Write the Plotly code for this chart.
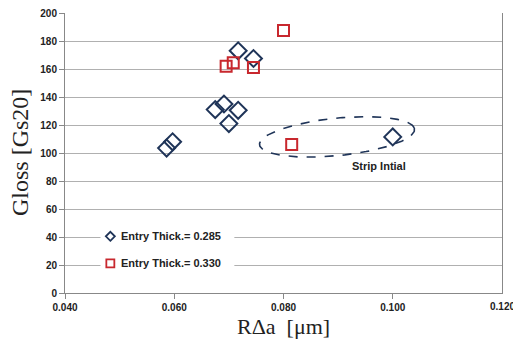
import numpy as np
import plotly.graph_objects as go

# Data
x_285 = [0.0586, 0.0597, 0.0675, 0.0691, 0.0700, 0.0717, 0.0717, 0.0745, 0.1000]
y_285 = [103.5, 108, 131, 135, 121, 130.5, 173, 167.5, 111.5]
x_330 = [0.0695, 0.0708, 0.0745, 0.0800, 0.0815]
y_330 = [162, 164.5, 161, 187.5, 106]
x_ticks = [0.040, 0.060, 0.080, 0.100, 0.120]
x_tick_labels = ["0.040", "0.060", "0.080", "0.100", "0.120"]
y_ticks = [0, 20, 40, 60, 80, 100, 120, 140, 160, 180, 200]
series_names = ["Entry Thick.= 0.285", "Entry Thick.= 0.330"]

navy = "#1F3458"
red = "#C8282E"
txt = "#222222"
tickfont = dict(family="Liberation Sans", size=10, color=txt, weight="bold")

fig = go.Figure()
fig.add_trace(go.Scatter(x=x_285, y=y_285, mode="markers", name=series_names[0], showlegend=False,
                         marker=dict(symbol="diamond-open", size=13, color=navy,
                                     line=dict(width=2, color=navy))))
fig.add_trace(go.Scatter(x=x_330, y=y_330, mode="markers", name=series_names[1], showlegend=False,
                         marker=dict(symbol="square-open", size=11, color=red,
                                     line=dict(width=2, color=red))))

# Dashed ellipse annotation (tilted)
cx, cy = 0.0898, 111.5
a_x, a_y = 0.01415, 6.3
b_x, b_y = 0.0011, 13.0
t = np.linspace(0, 2 * np.pi, 200)
ex = cx + a_x * np.cos(t) + (-b_x) * np.sin(t)
ey = cy + a_y * np.cos(t) + b_y * np.sin(t)
fig.add_trace(go.Scatter(x=ex, y=ey, mode="lines", showlegend=False, hoverinfo="skip",
                         line=dict(color=navy, width=1.6, dash="dash")))

fig.add_annotation(x=0.0975, y=91, text="<b>Strip Intial</b>", showarrow=False,
                   font=dict(family="Liberation Sans", size=11, color=txt))

# Legend box (manual)
fig.add_shape(type="rect", xref="x", yref="y", x0=0.0465, x1=0.0710, y0=10, y1=50,
              fillcolor="white", line=dict(width=0), layer="above")
leg_x = 0.0483
leg_y = [40.5, 21.2]
fig.add_shape(type="path", xref="x", yref="y", xsizemode="pixel", ysizemode="pixel",
              xanchor=leg_x, yanchor=leg_y[0], path="M 0 -4.5 L 4.5 0 L 0 4.5 L -4.5 0 Z",
              line=dict(color=navy, width=1.8), fillcolor="rgba(0,0,0,0)", layer="above")
fig.add_shape(type="rect", xref="x", yref="y", xsizemode="pixel", ysizemode="pixel",
              xanchor=leg_x, yanchor=leg_y[1], x0=-4, x1=4, y0=-4, y1=4,
              line=dict(color=red, width=1.8), fillcolor="rgba(0,0,0,0)", layer="above")
for name, yy in zip(series_names, leg_y):
    fig.add_annotation(x=0.0499, y=yy, xanchor="left", yanchor="middle", showarrow=False,
                       text=f"<b>{name}</b>",
                       font=dict(family="Liberation Sans", size=11, color=txt))

# 0.120 tick label (cut by the edge as in the reference)
fig.add_annotation(x=x_ticks[-1], y=0, yref="y", yshift=-13, text=f"<b>{x_tick_labels[-1]}</b>",
                   showarrow=False, xanchor="center", font=tickfont)

# Axis titles
fig.add_annotation(xref="paper", yref="paper", x=0.5, y=0, yshift=-33, yanchor="middle",
                   xanchor="center", text="RΔa  [μm]",
                   showarrow=False, font=dict(family="Liberation Serif", size=22, color=txt))
fig.add_annotation(xref="paper", yref="paper", x=0, y=0.5, xshift=-45, xanchor="center",
                   yanchor="middle", textangle=-90,
                   text="Gloss [Gs20]", showarrow=False,
                   font=dict(family="Liberation Serif", size=24, color=txt))

fig.update_layout(
    width=513, height=340,
    margin=dict(l=65, r=11, t=13, b=47),
    paper_bgcolor="white", plot_bgcolor="white",
    showlegend=False,
    xaxis=dict(range=[0.040, 0.120], tickvals=x_ticks[:-1], ticktext=x_tick_labels[:-1],
               showgrid=False, zeroline=False, showline=True, linecolor="#888888",
               ticks="outside", ticklen=5, tickcolor="#888888", automargin=False,
               tickfont=tickfont),
    yaxis=dict(range=[0, 200], tickvals=y_ticks,
               showgrid=True, gridcolor="#B0B0B0", gridwidth=1, zeroline=False,
               showline=True, linecolor="#888888", mirror=True,
               ticks="outside", ticklen=5, tickcolor="#888888", automargin=False,
               tickfont=tickfont),
)

fig.write_html("out.html", config={"displayModeBar": False},
               post_script="document.body.style.margin='0';document.body.style.padding='0';")
